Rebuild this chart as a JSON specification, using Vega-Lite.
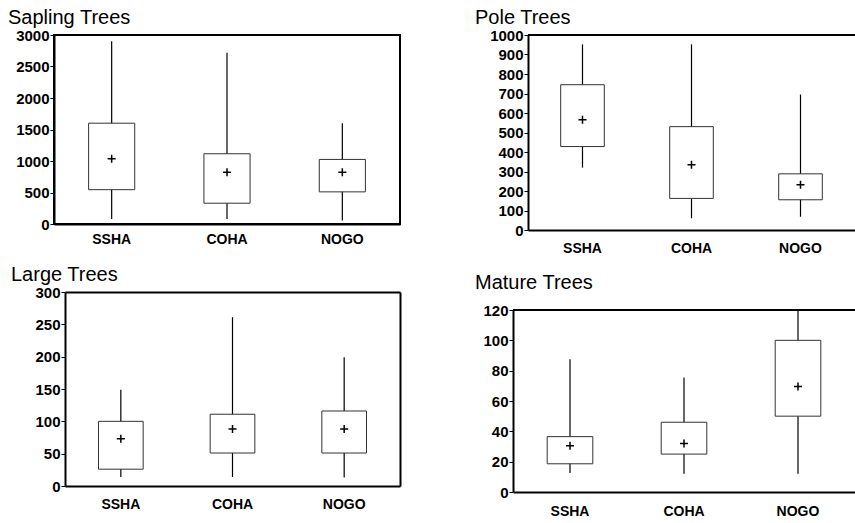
{
  "$schema": "https://vega.github.io/schema/vega-lite/v6.json",
  "padding": {"left": 7, "top": 6, "right": 0, "bottom": 0},
  "background": "white",
  "datasets": {
    "trees": [
      {"panel": "Sapling", "site": "SSHA", "min": 80, "q1": 545, "mean": 1035, "q3": 1600, "max": 2900},
      {"panel": "Sapling", "site": "COHA", "min": 80, "q1": 330, "mean": 820, "q3": 1115, "max": 2720},
      {"panel": "Sapling", "site": "NOGO", "min": 55, "q1": 510, "mean": 820, "q3": 1025, "max": 1600},
      {"panel": "Pole", "site": "SSHA", "min": 320, "q1": 428, "mean": 566, "q3": 745, "max": 952},
      {"panel": "Pole", "site": "COHA", "min": 60, "q1": 162, "mean": 335, "q3": 530, "max": 952},
      {"panel": "Pole", "site": "NOGO", "min": 68, "q1": 155, "mean": 232, "q3": 288, "max": 695},
      {"panel": "Large", "site": "SSHA", "min": 14, "q1": 26, "mean": 73, "q3": 100, "max": 149},
      {"panel": "Large", "site": "COHA", "min": 14, "q1": 51, "mean": 88, "q3": 111, "max": 261},
      {"panel": "Large", "site": "NOGO", "min": 13, "q1": 51, "mean": 88, "q3": 116, "max": 199},
      {"panel": "Mature", "site": "SSHA", "min": 12.5, "q1": 18.6, "mean": 30.5, "q3": 36.5, "max": 87.5},
      {"panel": "Mature", "site": "COHA", "min": 12, "q1": 25, "mean": 32, "q3": 46, "max": 75.5},
      {"panel": "Mature", "site": "NOGO", "min": 12, "q1": 50, "mean": 69.5, "q3": 100, "max": 120}
    ]
  },
  "data": {"name": "trees"},
  "columns": 2,
  "align": "none",
  "spacing": {"row": 9, "column": 74},
  "concat": [
    {
      "width": 346, "height": 189,
      "title": {"text": "Sapling Trees", "anchor": "start", "frame": "group", "dx": -46, "offset": 0.5},
      "transform": [{"filter": "datum.panel == 'Sapling'"}],
      "encoding": {
        "x": {"field": "site", "type": "nominal", "sort": ["SSHA", "COHA", "NOGO"],
              "scale": {"type": "band", "paddingInner": 0.6, "paddingOuter": 0.3},
              "axis": {"title": null, "labelAngle": 0, "ticks": false, "labelPadding": 8}}
      },
      "layer": [
        {"mark": {"type": "rule", "color": "black", "strokeWidth": 1.2},
         "encoding": {"y": {"field": "min", "type": "quantitative", "scale": {"domain": [0, 3000], "nice": false},
                            "axis": {"title": null, "values": [0, 500, 1000, 1500, 2000, 2500, 3000], "format": "d", "labelOverlap": false}},
                      "y2": {"field": "max"}}},
        {"mark": {"type": "bar", "fill": "white", "stroke": "#333333", "strokeWidth": 1},
         "encoding": {"y": {"field": "q1", "type": "quantitative", "scale": {"domain": [0, 3000], "nice": false},
                            "axis": {"title": null, "values": [0, 500, 1000, 1500, 2000, 2500, 3000], "format": "d", "labelOverlap": false}},
                      "y2": {"field": "q3"}}},
        {"mark": {"type": "point", "shape": "M-1,0L1,0M0,-1L0,1", "size": 64, "filled": false, "stroke": "black", "strokeWidth": 1.5, "opacity": 1},
         "encoding": {"y": {"field": "mean", "type": "quantitative", "scale": {"domain": [0, 3000], "nice": false},
                            "axis": {"title": null, "values": [0, 500, 1000, 1500, 2000, 2500, 3000], "format": "d", "labelOverlap": false}}}}
      ]
    },
    {
      "width": 327, "height": 195,
      "view": {"stroke": null},
      "title": {"text": "Pole Trees", "anchor": "start", "frame": "group", "dx": -53, "offset": 0.5},
      "transform": [{"filter": "datum.panel == 'Pole'"}],
      "layer": [
        {"mark": {"type": "rule", "color": "black", "strokeWidth": 2},
         "encoding": {"y": {"datum": 1000, "type": "quantitative", "scale": {"domain": [0, 1000], "nice": false},
                            "axis": {"title": null, "values": [0, 100, 200, 300, 400, 500, 600, 700, 800, 900, 1000], "format": "d", "labelOverlap": false}}}},
        {"mark": {"type": "rule", "color": "black", "strokeWidth": 1.2},
         "encoding": {"x": {"field": "site", "type": "nominal", "sort": ["SSHA", "COHA", "NOGO"],
                            "scale": {"type": "band", "paddingInner": 0.6, "paddingOuter": 0.3},
                            "axis": {"title": null, "labelAngle": 0, "ticks": false, "labelPadding": 11}},
                      "y": {"field": "min", "type": "quantitative", "scale": {"domain": [0, 1000], "nice": false},
                            "axis": {"title": null, "values": [0, 100, 200, 300, 400, 500, 600, 700, 800, 900, 1000], "format": "d", "labelOverlap": false}},
                      "y2": {"field": "max"}}},
        {"mark": {"type": "bar", "fill": "white", "stroke": "#333333", "strokeWidth": 1},
         "encoding": {"x": {"field": "site", "type": "nominal", "sort": ["SSHA", "COHA", "NOGO"],
                            "scale": {"type": "band", "paddingInner": 0.6, "paddingOuter": 0.3},
                            "axis": {"title": null, "labelAngle": 0, "ticks": false, "labelPadding": 11}},
                      "y": {"field": "q1", "type": "quantitative", "scale": {"domain": [0, 1000], "nice": false},
                            "axis": {"title": null, "values": [0, 100, 200, 300, 400, 500, 600, 700, 800, 900, 1000], "format": "d", "labelOverlap": false}},
                      "y2": {"field": "q3"}}},
        {"mark": {"type": "point", "shape": "M-1,0L1,0M0,-1L0,1", "size": 64, "filled": false, "stroke": "black", "strokeWidth": 1.5, "opacity": 1},
         "encoding": {"x": {"field": "site", "type": "nominal", "sort": ["SSHA", "COHA", "NOGO"],
                            "scale": {"type": "band", "paddingInner": 0.6, "paddingOuter": 0.3},
                            "axis": {"title": null, "labelAngle": 0, "ticks": false, "labelPadding": 11}},
                      "y": {"field": "mean", "type": "quantitative", "scale": {"domain": [0, 1000], "nice": false},
                            "axis": {"title": null, "values": [0, 100, 200, 300, 400, 500, 600, 700, 800, 900, 1000], "format": "d", "labelOverlap": false}}}}
      ]
    },
    {
      "width": 346, "height": 194,
      "view": {"stroke": null},
      "title": {"text": "Large Trees", "anchor": "start", "frame": "group", "dx": -43, "offset": 0.5},
      "transform": [{"filter": "datum.panel == 'Large'"}],
      "resolve": {"axis": {"x": "independent", "y": "independent"}},
      "layer": [
        {
          "encoding": {
            "x": {"field": "site", "type": "nominal", "sort": ["SSHA", "COHA", "NOGO"],
                  "scale": {"type": "band", "range": [11, 346], "paddingInner": 0.6, "paddingOuter": 0.3},
                  "axis": {"title": null, "labelAngle": 0, "ticks": false, "labelPadding": 11}}
          },
          "layer": [
            {"mark": {"type": "rule", "color": "black", "strokeWidth": 1.2},
             "encoding": {"y": {"field": "min", "type": "quantitative", "scale": {"domain": [0, 300], "nice": false},
                                "axis": {"title": null, "offset": -11, "values": [0, 50, 100, 150, 200, 250, 300], "format": "d", "labelOverlap": false}},
                          "y2": {"field": "max"}}},
            {"mark": {"type": "bar", "fill": "white", "stroke": "#333333", "strokeWidth": 1},
             "encoding": {"y": {"field": "q1", "type": "quantitative", "scale": {"domain": [0, 300], "nice": false},
                                "axis": {"title": null, "offset": -11, "values": [0, 50, 100, 150, 200, 250, 300], "format": "d", "labelOverlap": false}},
                          "y2": {"field": "q3"}}},
            {"mark": {"type": "point", "shape": "M-1,0L1,0M0,-1L0,1", "size": 64, "filled": false, "stroke": "black", "strokeWidth": 1.5, "opacity": 1},
             "encoding": {"y": {"field": "mean", "type": "quantitative", "scale": {"domain": [0, 300], "nice": false},
                                "axis": {"title": null, "offset": -11, "values": [0, 50, 100, 150, 200, 250, 300], "format": "d", "labelOverlap": false}}}}
          ]
        },
        {
          "mark": {"type": "point", "opacity": 0},
          "encoding": {
            "x": {"field": "site", "type": "nominal", "sort": ["SSHA", "COHA", "NOGO"],
                  "scale": {"type": "band", "range": [11, 346], "paddingInner": 0.6, "paddingOuter": 0.3},
                  "axis": {"orient": "top", "title": null, "labels": false, "ticks": false}},
            "y": {"field": "mean", "type": "quantitative", "scale": {"domain": [0, 300], "nice": false},
                  "axis": {"orient": "right", "title": null, "labels": false, "ticks": false}}
          }
        }
      ]
    },
    {
      "width": 342, "height": 182,
      "view": {"stroke": null},
      "title": {"text": ["", "Mature Trees"], "lineHeight": 8, "anchor": "start", "frame": "group", "dx": -38, "offset": 10.5},
      "transform": [{"filter": "datum.panel == 'Mature'"}],
      "layer": [
        {"mark": {"type": "rule", "color": "black", "strokeWidth": 2},
         "encoding": {"y": {"datum": 120, "type": "quantitative", "scale": {"domain": [0, 120], "nice": false},
                            "axis": {"title": null, "values": [0, 20, 40, 60, 80, 100, 120], "format": "d", "labelOverlap": false}}}},
        {"mark": {"type": "rule", "color": "black", "strokeWidth": 1.2},
         "encoding": {"x": {"field": "site", "type": "nominal", "sort": ["SSHA", "COHA", "NOGO"],
                            "scale": {"type": "band", "paddingInner": 0.6, "paddingOuter": 0.3},
                            "axis": {"title": null, "labelAngle": 0, "ticks": false, "labelPadding": 12}},
                      "y": {"field": "min", "type": "quantitative", "scale": {"domain": [0, 120], "nice": false},
                            "axis": {"title": null, "values": [0, 20, 40, 60, 80, 100, 120], "format": "d", "labelOverlap": false}},
                      "y2": {"field": "max"}}},
        {"mark": {"type": "bar", "fill": "white", "stroke": "#333333", "strokeWidth": 1},
         "encoding": {"x": {"field": "site", "type": "nominal", "sort": ["SSHA", "COHA", "NOGO"],
                            "scale": {"type": "band", "paddingInner": 0.6, "paddingOuter": 0.3},
                            "axis": {"title": null, "labelAngle": 0, "ticks": false, "labelPadding": 12}},
                      "y": {"field": "q1", "type": "quantitative", "scale": {"domain": [0, 120], "nice": false},
                            "axis": {"title": null, "values": [0, 20, 40, 60, 80, 100, 120], "format": "d", "labelOverlap": false}},
                      "y2": {"field": "q3"}}},
        {"mark": {"type": "point", "shape": "M-1,0L1,0M0,-1L0,1", "size": 64, "filled": false, "stroke": "black", "strokeWidth": 1.5, "opacity": 1},
         "encoding": {"x": {"field": "site", "type": "nominal", "sort": ["SSHA", "COHA", "NOGO"],
                            "scale": {"type": "band", "paddingInner": 0.6, "paddingOuter": 0.3},
                            "axis": {"title": null, "labelAngle": 0, "ticks": false, "labelPadding": 12}},
                      "y": {"field": "mean", "type": "quantitative", "scale": {"domain": [0, 120], "nice": false},
                            "axis": {"title": null, "values": [0, 20, 40, 60, 80, 100, 120], "format": "d", "labelOverlap": false}}}}
      ]
    }
  ],
  "config": {
    "view": {"stroke": "black", "strokeWidth": 2},
    "axis": {"grid": false, "domainColor": "black", "domainWidth": 2, "tickColor": "black", "tickWidth": 1,
             "labelColor": "black", "labelFont": "Liberation Sans", "labelFontWeight": "bold", "labelOverlap": false},
    "axisY": {"tickSize": 4, "labelPadding": 1, "labelFontSize": 15},
    "axisX": {"labelFontSize": 14},
    "title": {"font": "Liberation Sans", "fontSize": 20, "fontWeight": "normal", "color": "black"}
  }
}
